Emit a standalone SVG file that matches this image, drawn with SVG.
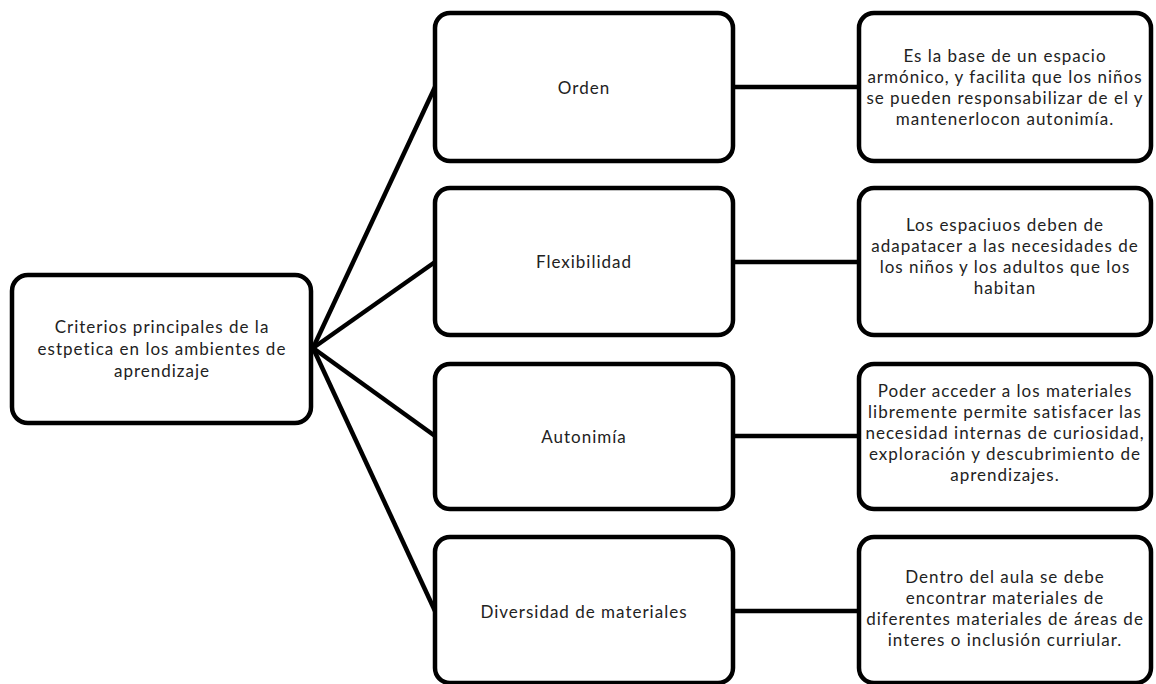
<svg xmlns="http://www.w3.org/2000/svg" width="1156" height="684" viewBox="0 0 1156 684">
<style>
.box{fill:#fff;stroke:#000;stroke-width:4.5}
.ln{stroke:#000;stroke-width:4.5;fill:none}
text{font-family:Lato,"Liberation Sans",sans-serif;font-size:17px;letter-spacing:1px;fill:#222;text-anchor:middle}
</style>
<rect width="1156" height="684" fill="#fff"/>
<g id="connectors">
<line class="ln" x1="313" y1="348" x2="435" y2="87"/>
<line class="ln" x1="313" y1="348" x2="435" y2="262"/>
<line class="ln" x1="313" y1="348" x2="435" y2="436"/>
<line class="ln" x1="313" y1="348" x2="435" y2="611"/>
<line class="ln" x1="733" y1="87" x2="859" y2="87"/>
<line class="ln" x1="733" y1="262" x2="859" y2="262"/>
<line class="ln" x1="733" y1="436" x2="859" y2="436"/>
<line class="ln" x1="733" y1="611" x2="859" y2="611"/>
</g>
<g id="root">
<rect class="box" x="12" y="275" width="299" height="148" rx="16"/>
<text x="162" y="333">Criterios principales de la</text>
<text x="162" y="355">estpetica en los ambientes de</text>
<text x="162" y="377">aprendizaje</text>
</g>
<g id="orden">
<rect class="box" x="435" y="13" width="298" height="148" rx="15"/>
<text x="584" y="94">Orden</text>
</g>
<g id="flexibilidad">
<rect class="box" x="435" y="188" width="298" height="147" rx="15"/>
<text x="584" y="268">Flexibilidad</text>
</g>
<g id="autonimia">
<rect class="box" x="435" y="364" width="298" height="145" rx="15"/>
<text x="584" y="443">Autonimía</text>
</g>
<g id="diversidad">
<rect class="box" x="435" y="537" width="298" height="146" rx="15"/>
<text x="584" y="618">Diversidad de materiales</text>
</g>
<g id="orden-desc">
<rect class="box" x="859" y="13" width="292" height="148" rx="15"/>
<text x="1005" y="62">Es la base de un espacio</text>
<text x="1005" y="83">armónico, y facilita que los niños</text>
<text x="1005" y="104">se pueden responsabilizar de el y</text>
<text x="1005" y="125">mantenerlocon autonimía.</text>
</g>
<g id="flexibilidad-desc">
<rect class="box" x="859" y="188" width="292" height="147" rx="15"/>
<text x="1005" y="231">Los espaciuos deben de</text>
<text x="1005" y="252">adapatacer a las necesidades de</text>
<text x="1005" y="273">los niños y los adultos que los</text>
<text x="1005" y="294">habitan</text>
</g>
<g id="autonimia-desc">
<rect class="box" x="859" y="364" width="292" height="145" rx="15"/>
<text x="1005" y="397">Poder acceder a los materiales</text>
<text x="1005" y="418">libremente permite satisfacer las</text>
<text x="1005" y="439">necesidad internas de curiosidad,</text>
<text x="1005" y="460">exploración y descubrimiento de</text>
<text x="1005" y="481">aprendizajes.</text>
</g>
<g id="diversidad-desc">
<rect class="box" x="859" y="537" width="292" height="146" rx="15"/>
<text x="1005" y="583">Dentro del aula se debe</text>
<text x="1005" y="604">encontrar materiales de</text>
<text x="1005" y="625">diferentes materiales de áreas de</text>
<text x="1005" y="646">interes o inclusión curriular.</text>
</g>
</svg>
